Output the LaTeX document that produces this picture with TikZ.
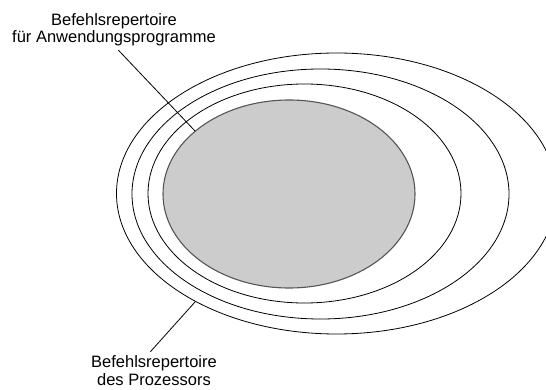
\documentclass[tikz,border=0pt]{standalone}
\usepackage{fontspec}
\setmainfont{Liberation Sans}
\usetikzlibrary{positioning}
\definecolor{kernfill}{HTML}{CCCCCC}
\definecolor{kerndraw}{HTML}{555555}
\tikzset{
  ring/.style={draw=black, line width=0.8pt},
  kern/.style={draw=kerndraw, fill=kernfill, line width=1.1pt},
  lbl/.style={align=center, inner sep=0pt, font=\fontsize{16.5}{17.8}\selectfont},
  pointer/.style={draw=black, line width=0.8pt},
}

\begin{document}
\begin{tikzpicture}[x=1pt, y=-1pt]
  \useasboundingbox (0,0) rectangle (546,390);
  \clip (0,0) rectangle (546,390);

  % rings, outermost first
  \foreach \cx/\cy/\rx/\ry in {336.5/193.5/220/140.5, 320.5/194/188.5/125, 304.5/193.5/156.5/109.5} {
    \draw[ring] (\cx,\cy) ellipse [x radius=\rx pt, y radius=\ry pt];
  }
  % application instruction set
  \draw[kern] (289,194) ellipse [x radius=126pt, y radius=94pt];

  % labels
  \node[lbl, anchor=north] (applbl) at (114,13) {Befehlsrepertoire\\f\"ur Anwendungsprogramme};
  \node[lbl, anchor=north] (proclbl) at (154,355.5) {Befehlsrepertoire\\des Prozessors};

  \coordinate (appl) at (195,131);
  \coordinate (proc) at (195,302);
  \draw[pointer, shorten <=5pt] ([xshift=1pt]applbl.south) -- (appl);
  \draw[pointer, shorten <=5pt] ([xshift=-7pt]proclbl.north) -- (proc);
\end{tikzpicture}
\end{document}
